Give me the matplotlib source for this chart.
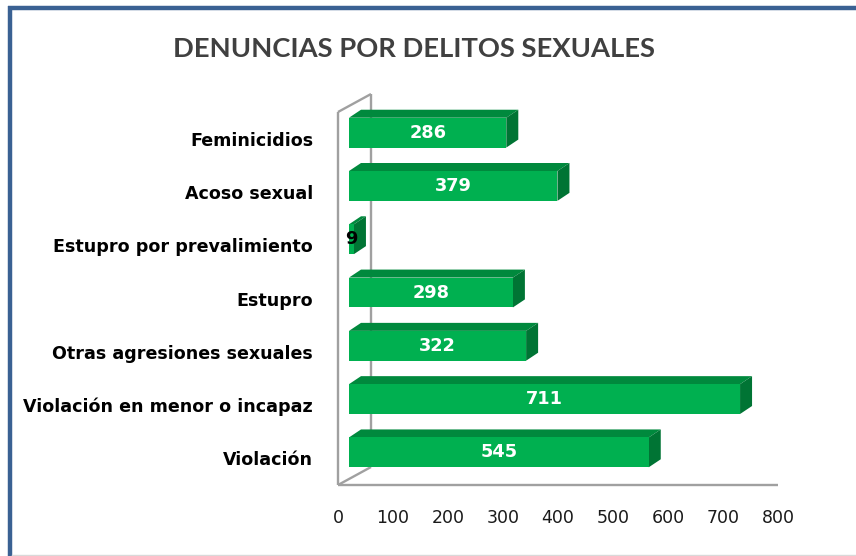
import matplotlib
matplotlib.use("Agg")
import matplotlib.pyplot as plt
from matplotlib.patches import Polygon, Rectangle
from matplotlib.lines import Line2D

# ---------------- data ----------------
categories = ["Violación", "Violación en menor o incapaz", "Otras agresiones sexuales",
              "Estupro", "Estupro por prevalimiento", "Acoso sexual", "Feminicidios"]
values = [545, 711, 322, 298, 9, 379, 286]
xticks = [0, 100, 200, 300, 400, 500, 600, 700, 800]
title = "DENUNCIAS POR DELITOS SEXUALES"

# ---------------- layout ----------------
W, H = 856, 556
fig = plt.figure(figsize=(W / 100, H / 100), dpi=100)
fig.patch.set_facecolor("white")

ax_left, ax_right, ax_top, ax_bottom = 338, 778, 112, 485
ax = fig.add_axes([ax_left / W, (H - ax_bottom) / H,
                   (ax_right - ax_left) / W, (ax_bottom - ax_top) / H])
xmin, xmax = 0, 800
ymin, ymax = -0.5, len(categories) - 0.5
ax.set_xlim(xmin, xmax)
ax.set_ylim(ymin, ymax)
ax.set_facecolor("none")
for s in ax.spines.values():
    s.set_visible(False)

# pixel -> data conversion
sx = (xmax - xmin) / (ax_right - ax_left)
sy = (ymax - ymin) / (ax_bottom - ax_top)

axis_col = "#A0A0A0"
lw = 1.7
# box depth
bdx, bdy = 33 * sx, 18 * sy
kw = dict(color=axis_col, lw=lw, clip_on=False, solid_capstyle="butt", zorder=0.5)
ax.add_line(Line2D([0, 0], [ymin, ymax], **kw))                       # front-left
ax.add_line(Line2D([bdx, bdx], [ymin + bdy, ymax + bdy], **kw))       # back wall
ax.add_line(Line2D([0, bdx], [ymax, ymax + bdy], **kw))               # top diagonal
ax.add_line(Line2D([0, bdx], [ymin, ymin + bdy], **kw))               # floor diagonal
ax.add_line(Line2D([0, xmax], [ymin, ymin], **kw))                    # x axis

# bars
front_c = "#00B050"
top_c = "#00893D"
side_c = "#007434"
bh = 0.56
x0 = 11 * sx
oy = 6 * sy
ddx, ddy = 12 * sx, 8 * sy
for i, v in enumerate(values):
    yb = i - bh / 2 + oy
    yt = i + bh / 2 + oy
    xe = x0 + v
    pk = dict(closed=True, edgecolor="none", clip_on=False, zorder=2)
    ax.add_patch(Polygon([(x0, yt), (xe, yt), (xe + ddx, yt + ddy), (x0 + ddx, yt + ddy)],
                         facecolor=top_c, **pk))
    ax.add_patch(Polygon([(xe, yb), (xe, yt), (xe + ddx, yt + ddy), (xe + ddx, yb + ddy)],
                         facecolor=side_c, **pk))
    ax.add_patch(Rectangle((x0, yb), v, bh, facecolor=front_c, edgecolor="none",
                           clip_on=False, zorder=2))
    col = "white" if v > 50 else "black"
    ax.text(x0 + v / 2, i + oy, str(v), ha="center", va="center", color=col,
            fontsize=12.8, fontweight="bold", family="DejaVu Sans", zorder=3)

# ticks
ax.set_xticks(xticks)
ax.set_xticklabels([str(t) for t in xticks], fontsize=12.5, color="#1a1a1a",
                   family="DejaVu Sans")
ax.tick_params(axis="x", length=0, pad=17.5)
ax.set_yticks(range(len(categories)))
ax.set_yticklabels(categories, fontsize=12.6, fontweight="bold", color="black",
                   family="DejaVu Sans")
ax.tick_params(axis="y", length=0, pad=18)

# title
fig.text(414 / W, 1 - 49 / H, title, ha="center", va="center", fontsize=19.7,
         fontweight="bold", color="#404040", family="Lato")

# frame
frame_c = "#3A6193"
fig.add_artist(Line2D([8 / W, 1.0], [1 - 7.5 / H, 1 - 7.5 / H], transform=fig.transFigure,
                      color=frame_c, lw=3.2, solid_capstyle="butt"))
fig.add_artist(Line2D([10 / W, 10 / W], [0, 1 - 5.5 / H], transform=fig.transFigure,
                      color=frame_c, lw=3.2, solid_capstyle="butt"))
fig.add_artist(Line2D([12 / W, 1.0], [1.2 / H, 1.2 / H], transform=fig.transFigure,
                      color="#D9D9D9", lw=1.0))

fig.savefig("out.png", dpi=100)
